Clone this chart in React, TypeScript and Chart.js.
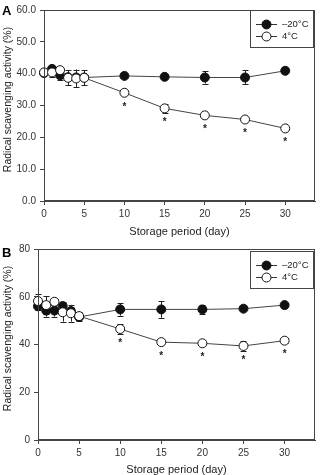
import React, { useEffect, useRef } from 'react';
import { Chart, registerables } from 'chart.js';
Chart.register(...registerables);

const days = [0, 1, 2, 3, 4, 5, 10, 15, 20, 25, 30];
const xTicks = [0, 5, 10, 15, 20, 25, 30];
const seriesLabels = ['\u201320\u00B0C', '4\u00B0C'];
const yTitle = 'Radical scavenging activity (%)';
const xTitle = 'Storage period (day)';

const aFrozen = [40.2, 41.5, 39.5, 38.9, 38.8, 38.8, 39.3, 39.0, 38.8, 38.8, 40.9];
const aFrozenErr = [0.5, 1.0, 1.6, 0.5, 0.5, 0.5, 0.5, 0.4, 1.9, 2.2, 0.5];
const aCold = [40.4, 40.4, 41.1, 38.7, 38.5, 38.7, 34.0, 29.1, 26.9, 25.6, 22.8];
const aColdErr = [0.5, 1.4, 0.8, 2.4, 2.8, 2.3, 0.7, 1.3, 0.4, 0.5, 0.8];
const aYTicks = [0, 10, 20, 30, 40, 50, 60];

const bFrozen = [56.0, 54.2, 54.2, 56.1, 54.0, 51.5, 54.7, 54.7, 54.7, 55.0, 56.5];
const bFrozenErr = [1.6, 2.5, 2.5, 1.5, 1.5, 1.0, 2.6, 3.5, 1.8, 0.5, 1.0];
const bCold = [58.2, 56.5, 57.9, 53.5, 53.1, 51.9, 46.5, 41.0, 40.5, 39.4, 41.6];
const bColdErr = [3.0, 3.8, 1.5, 3.9, 3.5, 1.9, 2.0, 0.4, 0.4, 2.1, 0.8];
const bYTicks = [0, 20, 40, 60, 80];

const starDays = [10, 15, 20, 25, 30];

const FONT = "'Liberation Sans', Arial, Helvetica, sans-serif";
const INK = '#222';
const AXIS = '#444';

type PanelProps = {
  letter: string;
  frozen: number[];
  frozenErr: number[];
  cold: number[];
  coldErr: number[];
  yTicks: number[];
  yMax: number;
  decimals: number;
  yWidth: number;
  xHeight: number;
  padTop: number;
  height: number;
  top: number;
  letterY: number;
  legendTop: number;
};

function Panel(p: PanelProps) {
  const ref = useRef<HTMLCanvasElement | null>(null);
  useEffect(() => {
    const canvas = ref.current;
    if (!canvas) return;
    const overlay = {
      id: 'overlay',
      beforeDatasetsDraw(chart: any) {
        const { ctx, scales } = chart;
        const x = scales.x;
        const y = scales.y;
        ctx.save();
        ctx.strokeStyle = INK;
        ctx.lineWidth = 1;
        const drawBars = (vals: number[], errs: number[]) => {
          vals.forEach((v, i) => {
            const px = Math.round(x.getPixelForValue(days[i])) + 0.5;
            const t = y.getPixelForValue(v + errs[i]);
            const b = y.getPixelForValue(v - errs[i]);
            ctx.beginPath();
            ctx.moveTo(px, t);
            ctx.lineTo(px, b);
            ctx.moveTo(px - 3, Math.round(t) + 0.5);
            ctx.lineTo(px + 3, Math.round(t) + 0.5);
            ctx.moveTo(px - 3, Math.round(b) + 0.5);
            ctx.lineTo(px + 3, Math.round(b) + 0.5);
            ctx.stroke();
          });
        };
        drawBars(p.frozen, p.frozenErr);
        drawBars(p.cold, p.coldErr);
        ctx.restore();
      },
      afterDraw(chart: any) {
        const { ctx, chartArea, scales } = chart;
        const x = scales.x;
        const y = scales.y;
        ctx.save();
        // frame
        ctx.strokeStyle = AXIS;
        ctx.lineWidth = 1;
        ctx.strokeRect(
          Math.round(chartArea.left) + 0.5,
          Math.round(chartArea.top) + 0.5,
          Math.round(chartArea.right - chartArea.left) - 1,
          Math.round(chartArea.bottom - chartArea.top) - 1
        );
        // y title
        ctx.save();
        ctx.translate(8, (chartArea.top + chartArea.bottom) / 2 - 6);
        ctx.rotate(-Math.PI / 2);
        ctx.fillStyle = INK;
        ctx.font = `10.5px ${FONT}`;
        ctx.textAlign = 'center';
        ctx.textBaseline = 'middle';
        ctx.fillText(yTitle, 0, 0);
        ctx.restore();
        // asterisks
        ctx.fillStyle = INK;
        ctx.font = `bold 10px ${FONT}`;
        ctx.textAlign = 'center';
        ctx.textBaseline = 'alphabetic';
        starDays.forEach((d) => {
          const i = days.indexOf(d);
          const v = p.cold[i];
          const py = y.getPixelForValue(v);
          const pb = y.getPixelForValue(v - p.coldErr[i]);
          const cy = Math.max(py + 4.5, pb) + 6.5;
          ctx.fillText('*', x.getPixelForValue(d), cy + 5.8);
        });
        // legend
        const bw = 63;
        const bh = 37;
        const lx = Math.round(chartArea.right) - 2 - bw;
        const ly = Math.round(chartArea.top) + p.legendTop;
        ctx.strokeStyle = AXIS;
        ctx.strokeRect(lx + 0.5, ly + 0.5, bw, bh);
        const rows = [
          { label: seriesLabels[0], fill: '#111', dy: 14 },
          { label: seriesLabels[1], fill: '#fff', dy: 26 },
        ];
        rows.forEach((r) => {
          const ry = ly + r.dy + 0.5;
          ctx.strokeStyle = '#333';
          ctx.beginPath();
          ctx.moveTo(lx + 6, ry);
          ctx.lineTo(lx + 27, ry);
          ctx.stroke();
          ctx.beginPath();
          ctx.arc(lx + 16.5, ry, 4.5, 0, Math.PI * 2);
          ctx.fillStyle = r.fill;
          ctx.fill();
          ctx.strokeStyle = '#111';
          ctx.stroke();
          ctx.fillStyle = INK;
          ctx.font = `9.5px ${FONT}`;
          ctx.textAlign = 'left';
          ctx.textBaseline = 'middle';
          ctx.fillText(r.label, lx + 32, ry);
        });
        // panel letter
        ctx.fillStyle = '#000';
        ctx.font = `bold 13px ${FONT}`;
        ctx.textAlign = 'left';
        ctx.textBaseline = 'alphabetic';
        ctx.fillText(p.letter, 2, p.letterY);
        ctx.restore();
      },
    };

    const chart = new Chart(canvas, {
      type: 'line',
      data: {
        datasets: [
          {
            label: seriesLabels[1],
            data: days.map((d, i) => ({ x: d, y: p.cold[i] })),
            borderColor: '#444',
            borderWidth: 1,
            backgroundColor: '#fff',
            pointBackgroundColor: '#fff',
            pointBorderColor: '#111',
            pointBorderWidth: 1,
            pointRadius: 4.5,
            clip: false as any,
          },
          {
            label: seriesLabels[0],
            data: days.map((d, i) => ({ x: d, y: p.frozen[i] })),
            borderColor: '#444',
            borderWidth: 1,
            backgroundColor: '#111',
            pointBackgroundColor: '#111',
            pointBorderColor: '#111',
            pointBorderWidth: 1,
            pointRadius: 4.5,
            clip: false as any,
          },
        ],
      },
      options: {
        animation: false,
        responsive: false,
        maintainAspectRatio: false,
        events: [],
        layout: { padding: { left: 0, right: 6, top: p.padTop, bottom: 0 } },
        plugins: { legend: { display: false }, tooltip: { enabled: false } },
        scales: {
          x: {
            type: 'linear',
            min: 0,
            max: 33.7,
            afterBuildTicks: (s: any) => {
              s.ticks = xTicks.map((v) => ({ value: v }));
            },
            afterFit: (s: any) => {
              s.height = p.xHeight;
            },
            ticks: {
              color: '#333',
              font: { family: FONT, size: 10 },
              padding: 3,
              maxRotation: 0,
              callback: (v: any) => String(v),
            },
            grid: { drawOnChartArea: false, drawTicks: true, tickLength: 4, color: AXIS },
            border: { color: AXIS },
            title: {
              display: true,
              text: xTitle,
              color: INK,
              font: { family: FONT, size: 11, lineHeight: 1 },
              padding: { top: 0, bottom: 0 },
            },
          },
          y: {
            type: 'linear',
            min: 0,
            max: p.yMax,
            afterBuildTicks: (s: any) => {
              s.ticks = p.yTicks.map((v) => ({ value: v }));
            },
            afterFit: (s: any) => {
              s.width = p.yWidth;
            },
            ticks: {
              color: '#333',
              font: { family: FONT, size: 10 },
              padding: 4,
              callback: (v: any) => Number(v).toFixed(p.decimals),
            },
            grid: { drawOnChartArea: false, drawTicks: true, tickLength: 4, color: AXIS },
            border: { color: AXIS },
            title: { display: false },
          },
        },
      },
      plugins: [overlay],
    });
    return () => chart.destroy();
  }, []);
  return (
    <canvas
      ref={ref}
      width={321}
      height={p.height}
      style={{ position: 'absolute', left: 0, top: p.top, width: 321, height: p.height, display: 'block' }}
    />
  );
}

export default function App() {
  return (
    <div style={{ position: 'absolute', left: 0, top: 0, width: 321, height: 475, background: '#fff' }}>
      <Panel
        letter="A"
        frozen={aFrozen}
        frozenErr={aFrozenErr}
        cold={aCold}
        coldErr={aColdErr}
        yTicks={aYTicks}
        yMax={60}
        decimals={1}
        yWidth={44}
        xHeight={36}
        padTop={10}
        height={237}
        top={0}
        letterY={15}
        legendTop={0}
      />
      <Panel
        letter="B"
        frozen={bFrozen}
        frozenErr={bFrozenErr}
        cold={bCold}
        coldErr={bColdErr}
        yTicks={bYTicks}
        yMax={80}
        decimals={0}
        yWidth={38}
        xHeight={35}
        padTop={12}
        height={238}
        top={237}
        letterY={20}
        legendTop={2}
      />
    </div>
  );
}
